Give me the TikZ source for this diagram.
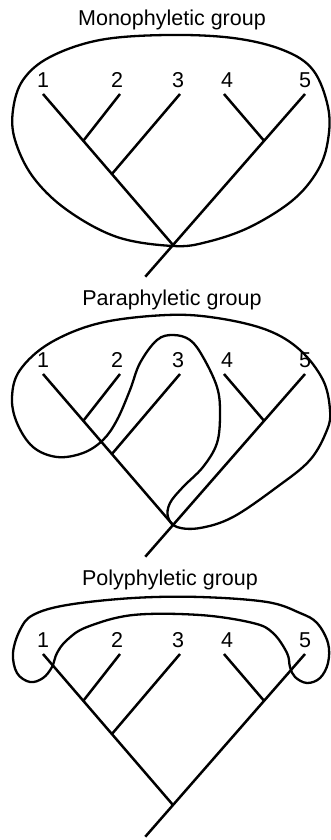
\documentclass[tikz,border=0pt]{standalone}
\usepackage{fontspec}
\setmainfont{Liberation Sans}
\usetikzlibrary{calc,positioning}

% one cladogram with five taxa, node names prefixed by #1
\newcommand{\cladetree}[1]{%
    \foreach \i/\x/\dx in {1/43/0,2/120/-3,3/180/-2,4/224/3,5/305/0} {
        \coordinate (#1t\i) at (\x,94);
        \node[taxon, above=6pt of #1t\i, xshift=\dx pt] (#1l\i) {\i};
    }
    \coordinate (#1r) at (173,245);
    \coordinate (#1a) at ($(#1t1)!0.31!(#1r)$);
    \coordinate (#1b) at ($(#1t1)!0.53!(#1r)$);
    \coordinate (#1c) at ($(#1t5)!0.31!(#1r)$);
    \coordinate (#1s) at ($(#1t5)!1.21!(#1r)$);
    \draw[branch] (#1t1) -- (#1r);
    \draw[branch] (#1t5) -- (#1r) -- (#1s);
    \draw[branch] (#1a) -- (#1t2);
    \draw[branch] (#1b) -- (#1t3);
    \draw[branch] (#1c) -- (#1t4);
}

\begin{document}
\begin{tikzpicture}[
    x=1pt, y=-1pt,
    branch/.style={line width=2.5pt},
    grouploop/.style={line width=2.3pt, smooth cycle, tension=0.6},
    taxon/.style={inner sep=0pt, font=\fontsize{21.5}{25}\selectfont},
    heading/.style={inner sep=0pt, font=\fontsize{21.5}{25}\selectfont}
]
\useasboundingbox (0,0) rectangle (330,840);

% Panel 1: monophyletic group
\begin{scope}
    \node[heading] (mono) at (172,20) {Monophyletic group};
    \cladetree{m}
    \draw[grouploop] plot coordinates {(167,35) (233,38) (283,50) (313,70)
        (328,107) (328,140) (318,170) (293,200) (250,227) (207,242) (173,246)
        (117,237) (67,210) (33,177) (15,140) (13,110) (23,80) (50,57) (100,40)};
\end{scope}

% Panel 2: paraphyletic group
\begin{scope}[shift={(0,280)}]
    \node[heading] (para) at (172,20) {Paraphyletic group};
    \cladetree{p}
    \draw[grouploop] plot coordinates {(167,35) (217,38) (267,50) (300,70)
        (323,100) (330,130) (327,150) (310,180) (277,207) (233,237) (200,248)
        (177,247) (168,237) (170,223) (183,207) (203,187) (217,163) (220,133)
        (217,107) (203,77) (190,60) (173,55) (157,60) (140,83) (130,110)
        (117,140) (103,160) (83,173) (57,177) (33,167) (17,143) (12,117)
        (20,90) (50,63) (100,43)};
\end{scope}

% Panel 3: polyphyletic group
\begin{scope}[shift={(0,560)}]
    \node[heading] (poly) at (170,20) {Polyphyletic group};
    \cladetree{q}
    \draw[grouploop] plot coordinates {(133,38) (200,37) (267,42) (300,53)
        (317,63) (328,83) (328,103) (320,118) (307,123) (295,117) (290,107)
        (287,93) (273,73) (253,63) (200,55) (133,55) (87,67) (67,80) (57,93)
        (52,107) (43,118) (30,122) (17,113) (13,93) (20,70) (33,55) (67,45)};
\end{scope}
\end{tikzpicture}
\end{document}
